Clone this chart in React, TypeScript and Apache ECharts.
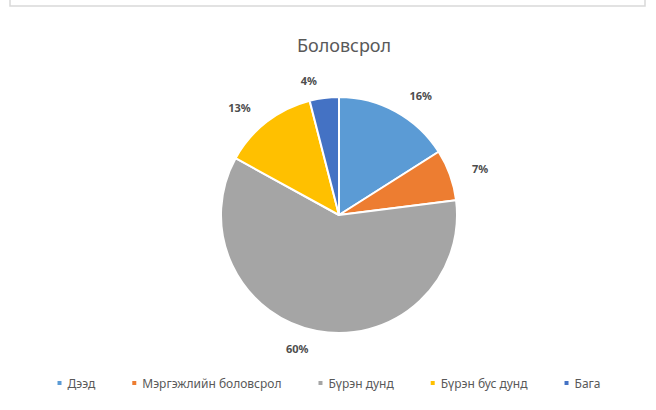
import React, { useEffect, useRef } from "react";
import * as echarts from "echarts";

const TITLE = "Боловсрол";
const CATEGORIES = ["Дээд", "Мэргэжлийн боловсрол", "Бүрэн дунд", "Бүрэн бус дунд", "Бага"];
const VALUES = [16, 7, 60, 13, 4];
const COLORS = ["#5B9BD5", "#ED7D31", "#A5A5A5", "#FFC000", "#4472C4"];

export default function App() {
  const ref = useRef<HTMLDivElement>(null);
  useEffect(() => {
    document.body.style.margin = "0";
    const chart = echarts.init(ref.current!, null, { renderer: "svg" });
    chart.setOption({
      animation: false,
      backgroundColor: "#ffffff",
      color: COLORS,
      title: {
        text: TITLE,
        left: 339,
        top: 31,
        textAlign: "center",
        textStyle: { fontFamily: "Noto Sans", fontSize: 18, fontWeight: "normal", color: "#595959" },
      },
      graphic: [
        {
          type: "rect",
          shape: { x: 10, y: -10, width: 635, height: 16 },
          style: { fill: "#ffffff", stroke: "#d9d9d9", lineWidth: 1.5 },
        },
      ],
      legend: {
        bottom: 16,
        left: "center",
        itemWidth: 6,
        itemHeight: 6,
        itemGap: 35,
        icon: "rect",
        textStyle: { fontFamily: "Noto Sans", fontSize: 12, color: "#595959" },
        data: CATEGORIES,
      },
      series: [
        {
          type: "pie",
          center: [339, 215],
          radius: 118,
          startAngle: 90,
          clockwise: true,
          data: CATEGORIES.map((name, i) => ({ name, value: VALUES[i] })),
          itemStyle: { borderColor: "#ffffff", borderWidth: 2 },
          label: {
            show: true,
            position: "outside",
            formatter: "{c}%",
            fontFamily: "Noto Sans",
            fontSize: 11,
            fontWeight: "bold",
            color: "#4d4d4d",
          },
          labelLine: { show: false, length: 18, length2: 0 },
        },
      ],
    });
    return () => chart.dispose();
  }, []);
  return <div ref={ref} style={{ width: 656, height: 410 }} />;
}
